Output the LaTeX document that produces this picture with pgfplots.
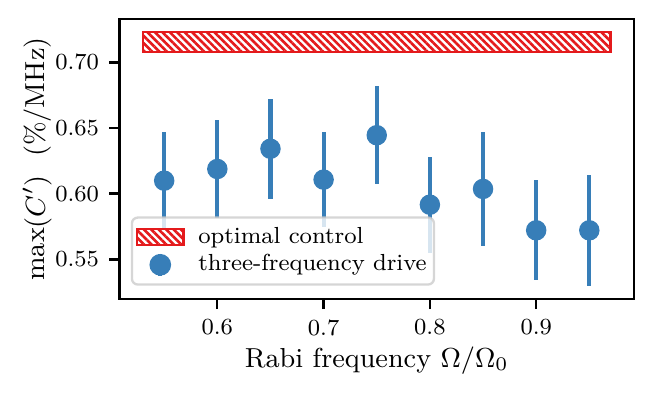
\RequirePackage{fix-cm}
\documentclass[border=0pt]{standalone}
\usepackage{fontspec}
\usepackage{pgfplots}
\pgfplotsset{compat=1.18}
\usetikzlibrary{patterns.meta}

\definecolor{setblue}{RGB}{55,126,184}
\definecolor{setred}{RGB}{228,26,28}
\definecolor{legframe}{RGB}{204,204,204}

\begin{document}
\begin{tikzpicture}
\begin{axis}[
    scale only axis,
    width=176pt, height=95.8pt,
    xmin=0.508, xmax=0.992,
    ymin=0.5198, ymax=0.733,
    xtick={0.6,0.7,0.8,0.9},
    ytick={0.55,0.60,0.65,0.70},
    /pgf/number format/assume math mode=true,
    xticklabel style={/pgf/number format/.cd, fixed, fixed zerofill, precision=1},
    yticklabel style={/pgf/number format/.cd, fixed, fixed zerofill, precision=2},
    tick label style={font=\fontsize{7.9}{9}\selectfont},
    label style={font=\fontsize{9.4}{11}\selectfont},
    tick align=outside,
    major tick length=3.5pt,
    xtick pos=bottom, ytick pos=left,
    axis line style={line width=0.8pt},
    every tick/.style={black, line width=0.8pt},
    xlabel={Rabi frequency $\Omega/\Omega_0$},
    ylabel={$\max(C')$\ \ (\%/MHz)},
    xlabel style={at={(axis description cs:0.5,-0.243)}, anchor=base, inner sep=0pt},
    ylabel style={at={(axis description cs:-0.145,0.5)}, anchor=base, inner sep=0pt},
    legend cell align=left,
    legend style={
        at={(0.0218,0.0475)}, anchor=south west,
        font=\fontsize{7.95}{9.5}\selectfont,
        draw=legframe, draw opacity=0.8, line width=0.8pt,
        fill=white, fill opacity=0.8, text opacity=1,
        rounded corners=2pt,
        inner xsep=1.3pt, inner ysep=2pt,
        row sep=0pt,
        nodes={inner sep=1.2pt},
    },
]

% optimal control band
\addplot[
    draw=setred, line width=0.8pt,
    pattern={Lines[angle=-45, distance=1.8pt, line width=0.9pt]},
    pattern color=setred,
    legend image code/.code={
        \path[draw=setred, line width=0.8pt, sharp corners, opacity=1, fill opacity=1,
              pattern={Lines[angle=-45, distance=1.8pt, line width=0.9pt]},
              pattern color=setred]
            (0pt,-2.7pt) rectangle (16pt,2.7pt);
        \path (19.4pt,0pt);
    },
] coordinates {
    (0.53,0.708) (0.97,0.708) (0.97,0.723) (0.53,0.723)
} --cycle;
\addlegendentry{optimal control}

% three-frequency drive
\addplot[
    only marks,
    mark=*, mark size=3.3pt,
    color=setblue,
    mark options={fill=setblue, draw=setblue},
    legend image code/.code={
        \draw[setblue, line width=1.4pt, opacity=1] (8pt,-3.7pt) -- (8pt,3.7pt);
        \fill[setblue, opacity=1, fill opacity=1] (8pt,0pt) circle (3.3pt);
        \path (19.4pt,0pt);
    },
    error bars/.cd,
        y dir=both, y explicit,
        error mark=none,
        error bar style={line width=1.4pt, setblue},
] coordinates {
    (0.55, 0.6099) +- (0, 0.0373)
    (0.60, 0.6188) +- (0, 0.0375)
    (0.65, 0.6342) +- (0, 0.0380)
    (0.70, 0.6107) +- (0, 0.0363)
    (0.75, 0.6445) +- (0, 0.0373)
    (0.80, 0.5916) +- (0, 0.0366)
    (0.85, 0.6036) +- (0, 0.0433)
    (0.90, 0.5721) +- (0, 0.0380)
    (0.95, 0.5721) +- (0, 0.0422)
};
\addlegendentry{three-frequency drive}

\coordinate (bl) at (rel axis cs:0,0);
\coordinate (tr) at (rel axis cs:1,1);
\end{axis}
\pgfresetboundingbox
\path ([shift={(-40.9pt,-33.9pt)}]bl) rectangle ([shift={(7.2pt,6.5pt)}]tr);
\end{tikzpicture}
\end{document}
